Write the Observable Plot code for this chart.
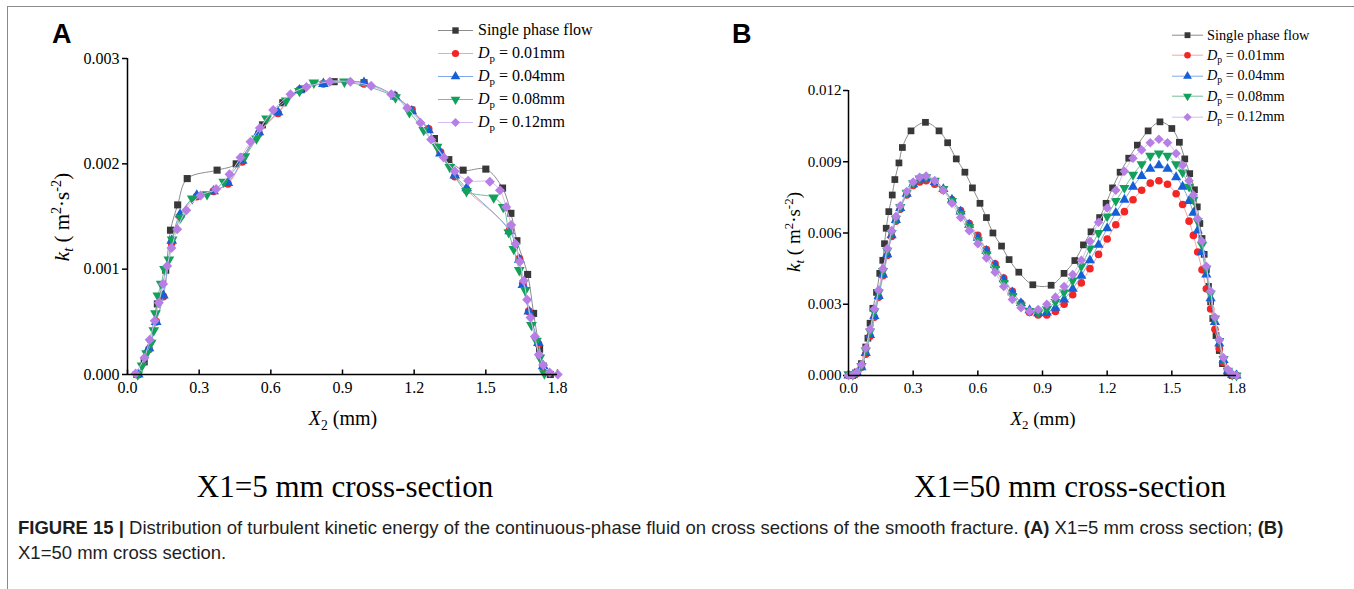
<!DOCTYPE html>
<html>
<head>
<meta charset="utf-8">
<script src="https://cdn.jsdelivr.net/npm/d3@7"></script>
<script src="https://cdn.jsdelivr.net/npm/@observablehq/plot@0.6"></script>
<style>
  html, body { margin: 0; padding: 0; background: #fff; }
  #fig { position: relative; width: 1354px; height: 589px; overflow: hidden; background: #fff; font-family: "Liberation Serif", "Times New Roman", serif; color: #000; }
  .abs { position: absolute; white-space: nowrap; }
  .frame { position: absolute; left: 7px; top: 6px; width: 1360px; height: 620px; border-top: 1.5px solid #8a8a8a; border-left: 1.5px solid #8a8a8a; }
  .letter { font-family: "Liberation Sans", Arial, sans-serif; font-weight: bold; font-size: 27px; line-height: 27px; }
  .title { font-size: 31px; line-height: 31px; transform: translateX(-50%); }
  .axlab { transform: translate(-50%, -50%); line-height: 1; }
  .ylab { transform: translate(-50%, -50%) rotate(-90deg); line-height: 1; }
  sub { font-size: 0.68em; vertical-align: -0.35em; line-height: 0; font-style: normal; }
  sup { font-size: 0.68em; vertical-align: 0.5em; line-height: 0; }
  .legend .row { display: flex; align-items: center; }
  .legend svg { display: block; flex: none; }
  .caption { font-family: "Liberation Sans", Arial, sans-serif; font-size: 18.5px; line-height: 25px; color: #1e1e1e; }
</style>
</head>
<body>
<div id="fig"></div>
<script>
// ---------------- data ----------------
const xTicks = [0, 0.3, 0.6, 0.9, 1.2, 1.5, 1.8];
const yTicksA = [0, 1, 2, 3];          // units of 1e-3 m^2 s^-2
const yTicksB = [0, 3, 6, 9, 12];      // units of 1e-3 m^2 s^-2

const seriesNames = ["Single phase flow", "0.01mm", "0.04mm", "0.08mm", "0.12mm"];
const lineColors = ["#8c8c8c", "#f6a5a5", "#80a8e6", "#74bd99", "#d8bbf3"];
const markColors = ["#383838", "#f42525", "#1560d6", "#13a05b", "#b77fe6"];
const markShapes = ["square", "circle", "triangle", "triangleDown", "diamond"];

// Panel A : X1 = 5 mm (values in 1e-3)
const aSingleX = [0.04, 0.07, 0.125, 0.16, 0.18, 0.21, 0.25, 0.375, 0.455, 0.565, 0.65, 0.73, 0.865, 0.99, 1.115, 1.19, 1.285, 1.345, 1.405, 1.50, 1.57, 1.605, 1.63, 1.675, 1.70, 1.725, 1.74, 1.77];
const aSingleY = [0.0, 0.12, 0.67, 0.99, 1.37, 1.61, 1.86, 1.94, 2.00, 2.37, 2.58, 2.71, 2.78, 2.77, 2.65, 2.51, 2.24, 2.04, 1.94, 1.95, 1.77, 1.53, 1.27, 0.95, 0.58, 0.24, 0.08, 0.0];

const aD01X = [0.045, 0.09, 0.12, 0.15, 0.185, 0.22, 0.29, 0.36, 0.42, 0.48, 0.55, 0.63, 0.72, 0.82, 0.99, 1.12, 1.19, 1.26, 1.31, 1.37, 1.42, 1.60, 1.64, 1.655, 1.68, 1.72, 1.74];
const aD01Y = [0.0, 0.24, 0.50, 0.74, 1.25, 1.50, 1.69, 1.74, 1.81, 2.02, 2.29, 2.48, 2.70, 2.76, 2.76, 2.64, 2.51, 2.33, 2.11, 1.88, 1.75, 1.37, 1.10, 0.86, 0.60, 0.29, 0.07];

const aD04X = [0.045, 0.09, 0.12, 0.15, 0.185, 0.22, 0.29, 0.36, 0.42, 0.48, 0.55, 0.63, 0.72, 0.82, 0.99, 1.12, 1.19, 1.26, 1.31, 1.37, 1.42, 1.60, 1.64, 1.655, 1.68, 1.72, 1.74];
const aD04Y = [0.0, 0.25, 0.50, 0.75, 1.27, 1.52, 1.70, 1.74, 1.82, 2.03, 2.30, 2.49, 2.70, 2.76, 2.77, 2.64, 2.50, 2.32, 2.10, 1.89, 1.77, 1.36, 1.09, 0.85, 0.60, 0.30, 0.08];

const aD08X = [0.043, 0.061, 0.080, 0.099, 0.110, 0.117, 0.127, 0.141, 0.155, 0.173, 0.187, 0.222, 0.271, 0.333, 0.403, 0.491, 0.540, 0.582, 0.664, 0.720, 0.780, 0.908, 1.122, 1.18, 1.24, 1.296, 1.349, 1.419, 1.533, 1.573, 1.596, 1.617, 1.64, 1.665, 1.691, 1.712, 1.726, 1.745];
const aD08Y = [0.0, 0.085, 0.20, 0.30, 0.42, 0.58, 0.75, 0.86, 1.00, 1.09, 1.28, 1.49, 1.67, 1.71, 1.83, 2.07, 2.24, 2.43, 2.60, 2.69, 2.77, 2.78, 2.63, 2.49, 2.32, 2.16, 1.97, 1.74, 1.68, 1.59, 1.35, 1.19, 0.99, 0.80, 0.47, 0.32, 0.16, 0.01];

const aD12X = [0.034, 0.071, 0.093, 0.114, 0.131, 0.149, 0.166, 0.184, 0.208, 0.246, 0.306, 0.371, 0.427, 0.473, 0.515, 0.554, 0.610, 0.682, 0.749, 0.847, 0.933, 1.02, 1.104, 1.171, 1.226, 1.271, 1.324, 1.370, 1.426, 1.517, 1.559, 1.585, 1.606, 1.624, 1.642, 1.659, 1.673, 1.687, 1.705, 1.722, 1.740, 1.767, 1.801];
const aD12Y = [0.01, 0.16, 0.33, 0.51, 0.68, 0.86, 1.03, 1.20, 1.38, 1.56, 1.70, 1.76, 1.90, 2.06, 2.21, 2.34, 2.51, 2.66, 2.73, 2.78, 2.78, 2.74, 2.66, 2.53, 2.39, 2.23, 2.06, 1.93, 1.84, 1.83, 1.75, 1.59, 1.42, 1.24, 1.07, 0.89, 0.71, 0.54, 0.36, 0.19, 0.09, 0.02, 0.0];

// Panel B : X1 = 50 mm (values in 1e-3)
const bSingleX = [0.02, 0.04, 0.06, 0.08, 0.09, 0.10, 0.113, 0.13, 0.145, 0.159, 0.167, 0.175, 0.187, 0.203, 0.215, 0.234, 0.25, 0.29, 0.357, 0.42, 0.46, 0.50, 0.54, 0.575, 0.61, 0.64, 0.67, 0.71, 0.745, 0.79, 0.855, 0.94, 1.0, 1.05, 1.09, 1.125, 1.165, 1.195, 1.225, 1.26, 1.30, 1.34, 1.39, 1.445, 1.50, 1.535, 1.56, 1.583, 1.605, 1.618, 1.63, 1.64, 1.65, 1.66, 1.67, 1.68, 1.69, 1.705, 1.72, 1.735, 1.757, 1.78];
const bSingleY = [0.0, 0.15, 0.5, 1.2, 1.57, 2.2, 2.83, 3.5, 4.3, 4.85, 5.55, 6.2, 6.9, 7.6, 8.25, 8.95, 9.6, 10.3, 10.66, 10.3, 9.8, 9.12, 8.56, 7.9, 7.25, 6.65, 6.0, 5.45, 4.88, 4.35, 3.82, 3.8, 4.3, 4.84, 5.5, 6.05, 6.65, 7.25, 7.9, 8.56, 9.15, 9.7, 10.3, 10.68, 10.4, 9.82, 9.12, 8.5, 7.82, 7.1, 6.4, 5.77, 5.1, 4.45, 3.75, 3.1, 2.4, 1.68, 1.05, 0.5, 0.14, 0.0];

const bParticleX = [0.0, 0.02, 0.04, 0.06, 0.08, 0.10, 0.12, 0.14, 0.16, 0.18, 0.20, 0.22, 0.24, 0.27, 0.30, 0.33, 0.36, 0.40, 0.44, 0.48, 0.52, 0.56, 0.60, 0.64, 0.68, 0.72, 0.76, 0.80, 0.84, 0.88, 0.92, 0.96, 1.00, 1.04, 1.08, 1.12, 1.16, 1.20, 1.24, 1.28, 1.32, 1.36, 1.40, 1.44, 1.48, 1.52, 1.55, 1.58, 1.60, 1.62, 1.64, 1.66, 1.68, 1.70, 1.72, 1.74, 1.76, 1.78, 1.80];
const bD01Y = [0, 0.02, 0.1, 0.35, 0.9, 1.65, 2.45, 3.3, 4.2, 5.05, 5.85, 6.5, 7.0, 7.6, 8.0, 8.15, 8.2, 8.05, 7.8, 7.4, 6.95, 6.4, 5.9, 5.3, 4.7, 4.1, 3.55, 3.05, 2.65, 2.55, 2.55, 2.7, 3.0, 3.4, 3.9, 4.5, 5.1, 5.75, 6.35, 6.9, 7.4, 7.8, 8.1, 8.2, 8.05, 7.65, 7.2, 6.5, 5.9, 5.2, 4.45, 3.65, 2.8, 1.95, 1.15, 0.55, 0.15, 0.02, 0];
const bD04Y = [0, 0.02, 0.1, 0.35, 0.95, 1.7, 2.5, 3.35, 4.25, 5.1, 5.9, 6.55, 7.05, 7.65, 8.05, 8.25, 8.3, 8.15, 7.85, 7.4, 6.9, 6.35, 5.8, 5.25, 4.65, 4.05, 3.5, 3.05, 2.75, 2.62, 2.65, 2.85, 3.2, 3.65, 4.2, 4.85, 5.5, 6.2, 6.85, 7.4, 7.95, 8.4, 8.7, 8.85, 8.7, 8.35, 7.95, 7.35, 6.85, 6.1, 5.2, 4.25, 3.25, 2.25, 1.35, 0.65, 0.18, 0.02, 0];
const bD08Y = [0.05, 0.03, 0.12, 0.4, 1.05, 1.85, 2.7, 3.5, 4.4, 5.25, 6.0, 6.6, 7.1, 7.7, 8.1, 8.3, 8.35, 8.2, 7.85, 7.35, 6.8, 6.25, 5.7, 5.1, 4.5, 3.9, 3.35, 2.95, 2.72, 2.65, 2.8, 3.1, 3.5, 4.0, 4.6, 5.35, 6.0, 6.7, 7.35, 7.9, 8.45, 8.9, 9.25, 9.35, 9.25, 8.9, 8.55, 7.95, 7.4, 6.5, 5.5, 4.5, 3.45, 2.4, 1.45, 0.7, 0.2, 0.03, 0];
const bD12Y = [0, 0.02, 0.15, 0.45, 1.15, 1.95, 2.8, 3.6, 4.5, 5.35, 6.1, 6.7, 7.15, 7.75, 8.15, 8.35, 8.4, 8.2, 7.8, 7.25, 6.65, 6.1, 5.55, 4.95, 4.35, 3.75, 3.2, 2.85, 2.7, 2.78, 3.0, 3.3, 3.75, 4.25, 4.85, 5.65, 6.45, 7.05, 7.8, 8.6, 9.15, 9.5, 9.8, 9.95, 9.8, 9.35, 8.85, 8.2, 7.6, 6.6, 5.65, 4.6, 3.55, 2.45, 1.5, 0.75, 0.25, 0.05, 0];

// ---------------- symbols ----------------
const sqrt3 = Math.sqrt(3);
const triangleDown = { draw(ctx, size) { const y = -Math.sqrt(size / (sqrt3 * 3)); ctx.moveTo(0, -2 * y); ctx.lineTo(-sqrt3 * y, y); ctx.lineTo(sqrt3 * y, y); ctx.closePath(); } };
const diamondSq = { draw(ctx, size) { const h = Math.sqrt(size / 2); ctx.moveTo(0, -h); ctx.lineTo(h, 0); ctx.lineTo(0, h); ctx.lineTo(-h, 0); ctx.closePath(); } };
const tickUp = { draw(ctx) { ctx.moveTo(0, 0); ctx.lineTo(0, -5); } };
function plotSymbol(name) { return name === "triangleDown" ? triangleDown : name === "diamond" ? diamondSq : name; }
function d3Symbol(name) { return ({square: d3.symbolSquare, circle: d3.symbolCircle, triangle: d3.symbolTriangle, triangleDown, diamond: diamondSq})[name]; }

const rows = (xs, ys) => xs.map((x, i) => ({x, y: ys[i]}));

function panel(cfg) {
  const marks = [
    Plot.axisY(cfg.yTicks, {tickSize: 5, tickPadding: cfg.yPad, tickFormat: d => (d / 1000).toFixed(3), label: null, fontSize: cfg.fontSize, strokeWidth: 1.5}),
    Plot.axisX(xTicks, {tickSize: 0, tickPadding: 7, tickFormat: d => d.toFixed(1), label: null, fontSize: cfg.fontSize}),
    Plot.dot(xTicks, {x: d => d, y: () => 0, symbol: tickUp, stroke: "#000", strokeWidth: 1.5, fill: "none", r: 3})
  ];
  cfg.series.forEach((s, i) => {
    const data = rows(s[0], s[1]);
    marks.push(Plot.line(data, {x: "x", y: "y", stroke: lineColors[i], strokeWidth: 1, curve: "catmull-rom"}));
    marks.push(Plot.dot(data, {x: "x", y: "y", symbol: plotSymbol(markShapes[i]), fill: markColors[i], stroke: "none", r: cfg.r}));
  });
  marks.push(Plot.ruleX([0], {stroke: "#000", strokeWidth: 1.5}));
  marks.push(Plot.ruleY([0], {stroke: "#000", strokeWidth: 1.5}));
  const svg = Plot.plot({
    width: cfg.width, height: cfg.height,
    marginLeft: cfg.ml, marginRight: cfg.mr, marginTop: cfg.mt, marginBottom: cfg.mb,
    x: {domain: [0, 1.8]},
    y: {domain: cfg.yDomain},
    style: {fontFamily: "'Liberation Serif', 'Times New Roman', serif", fontSize: cfg.fontSize + "px", color: "#000", background: "transparent", overflow: "visible"},
    marks
  });
  svg.style.position = "absolute";
  svg.style.left = cfg.left + "px";
  svg.style.top = "0px";
  return svg;
}

const fig = document.getElementById("fig");
function add(html, cls, style) {
  const d = document.createElement("div");
  d.className = "abs " + (cls || "");
  d.innerHTML = html;
  Object.assign(d.style, style);
  fig.appendChild(d);
  return d;
}

const frame = document.createElement("div"); frame.className = "frame"; fig.appendChild(frame);

fig.appendChild(panel({
  left: 0, width: 680, height: 440, ml: 127, mr: 123, mt: 58, mb: 66,
  yDomain: [0, 3], yTicks: yTicksA, fontSize: 16, yPad: 3, r: 4,
  series: [[aSingleX, aSingleY], [aD01X, aD01Y], [aD04X, aD04Y], [aD08X, aD08Y], [aD12X, aD12Y]]
}));
fig.appendChild(panel({
  left: 680, width: 674, height: 440, ml: 168, mr: 118, mt: 90, mb: 65,
  yDomain: [0, 12], yTicks: yTicksB, fontSize: 15, yPad: 2, r: 3.8,
  series: [[bSingleX, bSingleY], [bParticleX, bD01Y], [bParticleX, bD04Y], [bParticleX, bD08Y], [bParticleX, bD12Y]]
}));

function legend(left, top, rowH, fontSize, lineW, r, gap) {
  const box = add("", "legend", {left: left + "px", top: top + "px", fontSize: fontSize + "px"});
  seriesNames.forEach((name, i) => {
    const row = document.createElement("div");
    row.className = "row";
    row.style.height = rowH + "px";
    const svg = d3.create("svg").attr("width", lineW).attr("height", rowH);
    svg.append("line").attr("x1", 0).attr("x2", lineW).attr("y1", rowH / 2).attr("y2", rowH / 2)
      .attr("stroke", lineColors[i]).attr("stroke-width", 1);
    svg.append("path").attr("d", d3.symbol(d3Symbol(markShapes[i]), Math.PI * r * r)())
      .attr("transform", `translate(${lineW / 2},${rowH / 2})`).attr("fill", markColors[i]);
    row.appendChild(svg.node());
    const lab = document.createElement("span");
    lab.style.marginLeft = gap + "px";
    lab.innerHTML = i === 0 ? name : `<i>D</i><sub>p</sub> = ${name}`;
    row.appendChild(lab);
    box.appendChild(row);
  });
}
legend(438, 18.5, 23, 16, 35, 3.6, 5);
legend(1172, 25, 20.4, 14.3, 31, 3.3, 4);

// axis titles
add('<i>X</i><sub>2</sub> (mm)', "axlab", {left: "343px", top: "418px", fontSize: "20px"});
add('<i>X</i><sub>2</sub> (mm)', "axlab", {left: "1043px", top: "418px", fontSize: "19px"});
add('<i>k</i><sub><i>t</i></sub> ( m<sup>2</sup>·s<sup>-2</sup>)', "ylab", {left: "62px", top: "217px", fontSize: "21px"});
add('<i>k</i><sub><i>t</i></sub> ( m<sup>2</sup>·s<sup>-2</sup>)', "ylab", {left: "793px", top: "232px", fontSize: "19px"});

// panel letters
add("A", "letter", {left: "52px", top: "21px"});
add("B", "letter", {left: "732px", top: "21px"});

// section titles
add("X1=5 mm cross-section", "title", {left: "345px", top: "471px"});
add("X1=50 mm cross-section", "title", {left: "1070px", top: "471px"});

// caption
add('<b>FIGURE 15 |</b> Distribution of turbulent kinetic energy of the continuous-phase fluid on cross sections of the smooth fracture. <b>(A)</b> X1=5 mm cross section; <b>(B)</b><br>X1=50 mm cross section.',
  "caption", {left: "18px", top: "515px"});
</script>
</body>
</html>
